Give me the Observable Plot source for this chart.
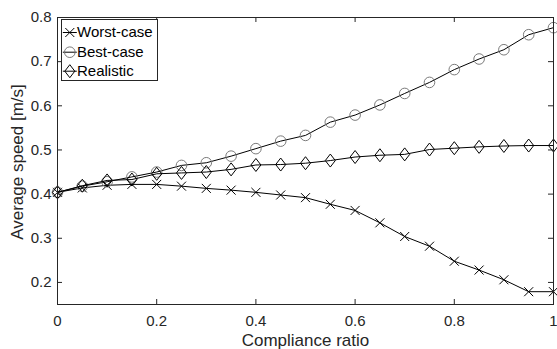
<!DOCTYPE html>
<html><head><meta charset="utf-8">
<script src="https://cdn.jsdelivr.net/npm/d3@7"></script>
<script src="https://cdn.jsdelivr.net/npm/@observablehq/plot@0.6"></script>
<style>body{margin:0;background:#fff} svg{display:block}</style>
</head><body><div id="chart"></div>
<script>
const ratio = [0,0.05,0.1,0.15,0.2,0.25,0.3,0.35,0.4,0.45,0.5,0.55,0.6,0.65,0.7,0.75,0.8,0.85,0.9,0.95,1];
const worst = [0.404,0.414,0.420,0.422,0.422,0.418,0.413,0.409,0.404,0.398,0.392,0.377,0.363,0.335,0.304,0.282,0.248,0.228,0.206,0.179,0.179];
const best = [0.404,0.418,0.428,0.439,0.450,0.465,0.471,0.486,0.503,0.520,0.533,0.563,0.579,0.602,0.628,0.653,0.682,0.706,0.727,0.761,0.777];
const realistic = [0.404,0.419,0.431,0.433,0.446,0.448,0.450,0.456,0.466,0.467,0.470,0.476,0.484,0.488,0.490,0.501,0.504,0.507,0.509,0.510,0.510];
const seriesNames = ["Worst-case","Best-case","Realistic"];
const xTicks = [0,0.2,0.4,0.6,0.8,1];
const yTicks = [0.2,0.3,0.4,0.5,0.6,0.7,0.8];
const xLabel = "Compliance ratio";
const yLabel = "Average speed [m/s]";

const rows = ratio.map((x,i)=>({x, worst: worst[i], best: best[i], realistic: realistic[i]}));

const timesSym = {draw(ctx,size){const r=Math.sqrt(size/Math.PI); ctx.moveTo(-r,-r); ctx.lineTo(r,r); ctx.moveTo(r,-r); ctx.lineTo(-r,r);}};
const diamondSym = {draw(ctx,size){const r=Math.sqrt(size/Math.PI); const w=r*0.77; ctx.moveTo(0,-r); ctx.lineTo(w,0); ctx.lineTo(0,r); ctx.lineTo(-w,0); ctx.closePath();}};
const lineSym = {draw(ctx,size){ctx.moveTo(-7,0); ctx.lineTo(7,0);}};

const W = 557, H = 349;
const mL = 57, mR = 4, mT = 17, mB = 45;
const pw = W - mL - mR, ph = H - mT - mB;
const ink = "#262626";

const styles = [
  {key:"worst", symbol: timesSym, r: 4.5, stroke: "black"},
  {key:"best", symbol: "circle", r: 5.3, stroke: "#7a7a7a"},
  {key:"realistic", symbol: diamondSym, r: 6.5, stroke: "black"}
];

const marks = [];
styles.forEach(s => {
  marks.push(Plot.line(rows, {x:"x", y:s.key, stroke:"black", strokeWidth:1}));
  marks.push(Plot.dot(rows, {x:"x", y:s.key, symbol:s.symbol, r:s.r, stroke:s.stroke, fill:"none", strokeWidth:1}));
});

// box and inward ticks
marks.push(Plot.frame({stroke: ink, strokeWidth: 1}));
marks.push(Plot.ruleX(xTicks, {x: d=>d, stroke: ink, insetTop: ph-5}));
marks.push(Plot.ruleX(xTicks, {x: d=>d, stroke: ink, insetBottom: ph-5}));
marks.push(Plot.ruleY(yTicks, {y: d=>d, stroke: ink, insetRight: pw-5}));
marks.push(Plot.ruleY(yTicks, {y: d=>d, stroke: ink, insetLeft: pw-5}));

// tick labels
marks.push(Plot.text(xTicks, {x: d=>d, frameAnchor:"bottom", dy: 16.3, text: d=>String(d), fill: ink, fontSize: 15, lineAnchor:"middle"}));
marks.push(Plot.text(yTicks, {y: d=>d, frameAnchor:"left", dx: -6, text: d=>d.toFixed(1), textAnchor:"end", fill: ink, fontSize: 15, lineAnchor:"middle"}));

// axis titles
marks.push(Plot.text([xLabel], {frameAnchor:"bottom", dy: 36.5, text: d=>d, fill: ink, fontSize: 17, lineAnchor:"middle"}));
marks.push(Plot.text([yLabel], {frameAnchor:"left", dx: -39.5, dy: 1, rotate: -90, text: d=>d, fill: ink, fontSize: 17, lineAnchor:"middle", textAnchor:"middle"}));

// legend
marks.push(Plot.frame({fill:"white", stroke: ink, strokeWidth: 1, insetLeft: 4, insetTop: 2, insetRight: pw-100, insetBottom: ph-63}));
const legY = [15, 34.7, 53.7];
styles.forEach((s,i) => {
  marks.push(Plot.dot([0], {frameAnchor:"top-left", dx: 12.3, dy: legY[i], symbol: lineSym, r: 7, stroke:"black", strokeWidth:1}));
  marks.push(Plot.dot([0], {frameAnchor:"top-left", dx: 12.3, dy: legY[i], symbol: s.symbol, r: s.r, stroke: s.stroke, fill:"none", strokeWidth:1}));
  marks.push(Plot.text([seriesNames[i]], {frameAnchor:"top-left", dx: 19.5, dy: legY[i], text: d=>d, textAnchor:"start", lineAnchor:"middle", fill: "black", fontSize: 15}));
});

const chart = Plot.plot({
  width: W, height: H,
  marginLeft: mL, marginRight: mR, marginTop: mT, marginBottom: mB,
  style: {fontFamily: "Arial, 'Liberation Sans', sans-serif", fontSize: "15px", background: "white", overflow: "visible"},
  x: {domain: [0,1], axis: null},
  y: {domain: [0.15,0.8], axis: null},
  marks
});
document.getElementById("chart").appendChild(chart);
</script>
</body></html>
